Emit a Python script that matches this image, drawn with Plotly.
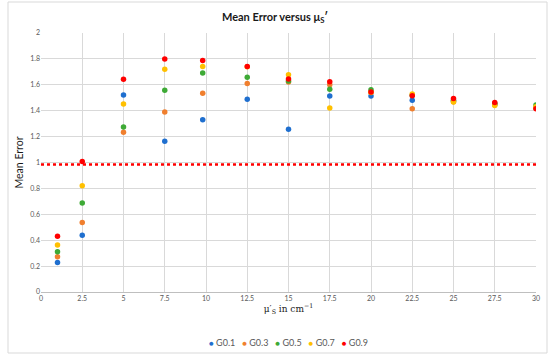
import plotly.graph_objects as go

x_vals = [1, 2.5, 5, 7.5, 9.8, 12.5, 15, 17.5, 20, 22.5, 25, 27.5, 30]
g01 = [0.228, 0.438, 1.521, 1.165, 1.331, 1.488, 1.257, 1.513, 1.513, 1.480, 1.475, 1.450, 1.420]
g03 = [0.272, 0.536, 1.234, 1.390, 1.534, 1.611, 1.621, 1.600, 1.545, 1.415, 1.470, 1.445, 1.420]
g05 = [0.310, 0.687, 1.275, 1.557, 1.692, 1.659, 1.630, 1.565, 1.561, 1.520, 1.480, 1.455, 1.444]
g07 = [0.362, 0.821, 1.452, 1.721, 1.742, 1.740, 1.677, 1.421, 1.540, 1.528, 1.467, 1.440, 1.430]
g09 = [0.431, 1.008, 1.642, 1.800, 1.788, 1.742, 1.644, 1.623, 1.544, 1.516, 1.495, 1.464, 1.415]
ref_level = 0.985

series = [("G0.1", g01, "#1F6FCF"), ("G0.3", g03, "#F07F2E"),
          ("G0.5", g05, "#3EAA36"), ("G0.7", g07, "#FFC000"),
          ("G0.9", g09, "#FF0000")]

x_ticks = [i * 2.5 for i in range(13)]
x_ticklabels = ["0", "2.5", "5", "7.5", "10", "12.5", "15", "17.5", "20", "22.5", "25", "27.5", "30"]
y_ticks = [i * 0.2 for i in range(11)]
y_ticklabels = ["0", "0.2", "0.4", "0.6", "0.8", "1", "1.2", "1.4", "1.6", "1.8", "2"]

FONT = "Lato, 'Open Sans', sans-serif"

fig = go.Figure()
fig.add_trace(go.Scatter(x=[0, 30], y=[ref_level, ref_level], mode="lines",
                         line=dict(color="#FF0000", width=2.5, dash="dot"),
                         showlegend=False, hoverinfo="skip"))
for name, vals, col in series:
    fig.add_trace(go.Scatter(x=x_vals, y=vals, mode="markers", name=name,
                             marker=dict(color=col, size=5.5), showlegend=False))

legend_text = "&nbsp;&nbsp;&nbsp;".join(
    f"<span style='color:{col}; font-size:8px'>●</span> {name}" for name, _, col in series)
fig.add_annotation(text=legend_text, xref="paper", yref="paper", x=0.5, y=-50 / 259,
                   xanchor="center", yanchor="middle", showarrow=False,
                   font=dict(family=FONT, size=9, color="#595959"))

fig.update_layout(
    width=550, height=357,
    margin=dict(l=41, r=14, t=33, b=65, autoexpand=False),
    paper_bgcolor="white", plot_bgcolor="white",
    font=dict(family=FONT, color="#595959", size=7),
    title=dict(text="<b>Mean Error versus μ<sub>S</sub>′</b>", x=0.5, xanchor="center",
               y=1 - 17 / 357, yanchor="middle",
               font=dict(family=FONT, size=11, color="#1a1a1a")),
    showlegend=False,
    xaxis=dict(range=[0, 30], tickvals=x_ticks, ticktext=x_ticklabels,
               showgrid=True, gridcolor="#D9D9D9", gridwidth=1,
               showline=True, linecolor="#BFBFBF", zeroline=False, automargin=False,
               ticks="", tickfont=dict(size=7, color="#595959"),
               title=dict(text="μ′<sub>S</sub> in cm<sup>−1</sup>", standoff=2,
                          font=dict(family="'DejaVu Serif', 'Liberation Serif', serif", size=9, color="#1a1a1a"))),
    yaxis=dict(range=[0, 2], tickvals=y_ticks, ticktext=y_ticklabels,
               showgrid=True, gridcolor="#D9D9D9", gridwidth=1,
               showline=False, zeroline=False, automargin=False,
               ticks="", tickfont=dict(size=7, color="#595959"),
               title=dict(text="Mean Error", standoff=4,
                          font=dict(family=FONT, size=10.5, color="#1a1a1a"))),
)
fig.add_shape(type="rect", xref="paper", yref="paper",
              x0=-33 / 495, x1=1 + 11 / 495, y0=-61 / 259, y1=1 + 31 / 259,
              line=dict(color="#D9D9D9", width=1), fillcolor="rgba(0,0,0,0)", layer="below")

fig.write_html("out.html", config={"displayModeBar": False},
               post_script="document.body.style.margin='0';")
